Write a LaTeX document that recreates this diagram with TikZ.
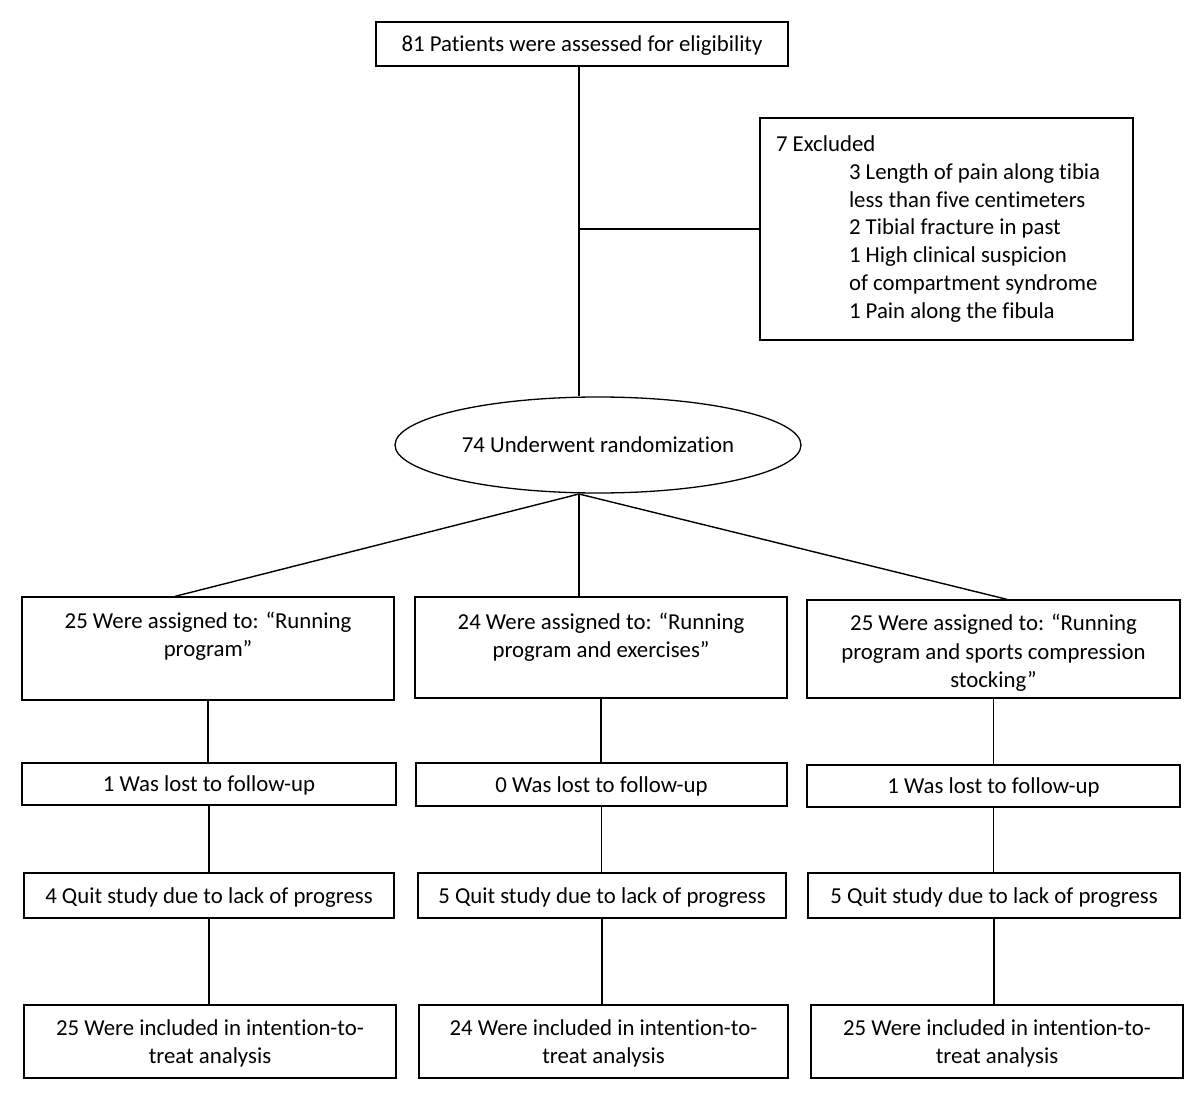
\documentclass[tikz,border=0pt]{standalone}
\usepackage{fontspec}
\setmainfont{Carlito}[Ligatures=NoCommon]
\usetikzlibrary{shapes.geometric}
\begin{document}
\begin{tikzpicture}[x=1pt,y=-1pt,
  every node/.style={font=\fontsize{22.8}{28.5}\selectfont},
  box/.style={draw,line width=1.3pt,rectangle,align=center,inner sep=0pt,text depth=0pt},
  conn/.style={line width=1.4pt}]
\useasboundingbox (0,0) rectangle (1200,1110);
% top
\node[box,minimum width=412,minimum height=44] (top) at (582,44) {81 Patients were assessed for eligibility};
\node[box,text depth={},align=flush left,text width=341,inner xsep=16,minimum height=222,
  font=\fontsize{22.8}{27.8}\selectfont] (excl) at (946.5,229)
  {\rule{0pt}{14pt}7 Excluded\\
   \hspace*{73pt}3 Length of pain along tibia\\
   \hspace*{73pt}less than five centimeters\\
   \hspace*{73pt}2 Tibial fracture in past\\
   \hspace*{73pt}1 High clinical suspicion\\
   \hspace*{73pt}of compartment syndrome\\
   \hspace*{73pt}1 Pain along the fibula};
\node[draw,ellipse,line width=1.3pt,minimum width=406,minimum height=96,inner sep=0pt] (ell) at (598,445) {74 Underwent randomization};
\coordinate (rnd) at (579,494);
% row 1
\node[box,minimum width=372,minimum height=103] (a1) at (208,648.5) {25 Were assigned to: “Running\\program”\\ \strut};
\node[box,minimum width=372,minimum height=101] (b1) at (601,647.5) {\rule{0pt}{20pt}24 Were assigned to: “Running\\program and exercises”\\ \strut};
\node[box,minimum width=373,minimum height=98] (c1) at (993.5,649) {\rule{0pt}{20pt}25 Were assigned to: “Running\\program and sports compression\\stocking”};
% row 2
\node[box,minimum width=374,minimum height=42] (a2) at (209,784) {1 Was lost to follow-up};
\node[box,minimum width=371,minimum height=43] (b2) at (601.5,784.5) {0 Was lost to follow-up};
\node[box,minimum width=373,minimum height=42] (c2) at (993.5,786) {1 Was lost to follow-up};
% row 3
\node[box,minimum width=370,minimum height=45] (a3) at (209,895.5) {4 Quit study due to lack of progress};
\node[box,minimum width=368,minimum height=45] (b3) at (602,895.5) {5 Quit study due to lack of progress};
\node[box,minimum width=372,minimum height=45] (c3) at (994,895.5) {5 Quit study due to lack of progress};
% row 4
\node[box,minimum width=372,minimum height=73] (a4) at (210,1041.5) {25 Were included in intention-to-\\treat analysis};
\node[box,minimum width=369,minimum height=73] (b4) at (603.5,1041.5) {24 Were included in intention-to-\\treat analysis};
\node[box,minimum width=372,minimum height=73] (c4) at (997,1041.5) {25 Were included in intention-to-\\treat analysis};
% connectors
\draw[conn] (top.south -| rnd) -- (ell.north -| rnd);
\draw[conn] (excl.west -| rnd) -- (excl.west);
\draw[conn] (rnd) -- ([xshift=-33pt]a1.north);
\draw[conn] (rnd) -- (b1.north -| rnd);
\draw[conn] (rnd) -- ([xshift=13.5pt]c1.north);
\draw[conn] (a1.south) -- (a1.south |- a2.north);
\draw[conn] (b1.south) -- (b1.south |- b2.north);
\draw[conn] (c1.south) -- (c1.south |- c2.north);
\draw[conn] (a2.south) -- (a2.south |- a3.north);
\draw[conn] (b2.south) -- (b2.south |- b3.north);
\draw[conn] (c2.south) -- (c2.south |- c3.north);
\draw[conn] (a3.south) -- (a3.south |- a4.north);
\draw[conn] (b3.south) -- (b3.south |- b4.north);
\draw[conn] (c3.south) -- (c3.south |- c4.north);
\end{tikzpicture}
\end{document}
